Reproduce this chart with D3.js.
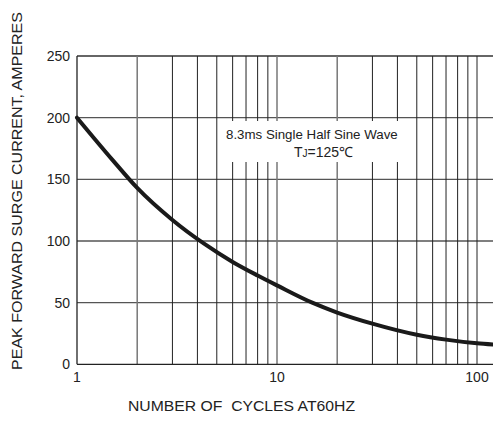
<!DOCTYPE html>
<html>
<head>
<meta charset="utf-8">
<script src="https://cdn.jsdelivr.net/npm/d3@7"></script>
<style>
  body { margin: 0; background: #fff; }
  text { font-family: "Liberation Sans", Arial, sans-serif; fill: #222; }
</style>
</head>
<body>
<div id="chart"></div>
<script>
// surge current curve
var cycles = [1, 1.5, 2, 3, 4.3, 6, 8, 10, 15, 20, 30, 50, 70, 100, 120];
var amps = [200, 166, 143, 117, 98, 83, 72, 64, 50, 42, 33, 24, 20, 17, 16];

var yTicks = [0, 50, 100, 150, 200, 250];
var xLabels = [1, 10, 100];
var xGrid = [2, 3, 4, 5, 6, 7, 8, 9, 10, 20, 30, 40, 50, 60, 70, 80, 90, 100];

var width = 493;
var height = 421;
// note: "top" is taken by window.top, so use other names
var plotLeft = 77, plotTop = 56, plotBottom = 364.3;

var svg = d3.select('#chart')
  .append('svg')
  .attr("width", width)
  .attr("height", height);

var x = d3.scaleLog()
  .domain([1, 100])
  .range([plotLeft, 477]);

var y = d3.scaleLinear()
  .domain([0, 250])
  .range([plotBottom, plotTop]);

var grid = svg.append("g");

// horizontal grid
grid.selectAll("line.h")
  .data(yTicks.filter(function(d){ return d > 0; }))
  .enter().append("line")
  .attr("x1", plotLeft).attr("x2", width)
  .attr("y1", function(d){ return y(d); })
  .attr("y2", function(d){ return y(d); })
  .attr("stroke", function(d){ return d == 250 ? "#333" : "#555"; })
  .attr("stroke-width", 1.3);

// vertical grid
grid.selectAll("line.v")
  .data(xGrid)
  .enter().append("line")
  .attr("x1", function(d){ return x(d); })
  .attr("x2", function(d){ return x(d); })
  .attr("y1", plotTop).attr("y2", plotBottom)
  .attr("stroke", function(d){ return (d == 2 || d == 10 || d == 20) ? "#777" : "#222"; })
  .attr("stroke-width", function(d){ return (d == 2 || d == 10 || d == 20) ? 1.5 : 1; });

// white patch behind the note
svg.append("rect")
  .attr("x", 222).attr("y", 121)
  .attr("width", 178).attr("height", 41)
  .attr("fill", "#fff");

// axes frame
svg.append("line")
  .attr("x1", plotLeft).attr("x2", plotLeft)
  .attr("y1", plotTop).attr("y2", plotBottom)
  .attr("stroke", "#222").attr("stroke-width", 1.3);
svg.append("line")
  .attr("x1", plotLeft).attr("x2", width)
  .attr("y1", plotBottom).attr("y2", plotBottom)
  .attr("stroke", "#222").attr("stroke-width", 1.3);

// curve
var line = d3.line()
  .x(function(d, i){ return x(cycles[i]); })
  .y(function(d){ return y(d); })
  .curve(d3.curveMonotoneX);

svg.append("path")
  .datum(amps)
  .attr("d", line)
  .attr("fill", "none")
  .attr("stroke", "#1a1a1a")
  .attr("stroke-width", 4)
  .attr("stroke-linecap", "round");

// tick labels
svg.selectAll("text.yt")
  .data(yTicks)
  .enter().append("text")
  .attr("x", 70)
  .attr("y", function(d){ return y(d) + 5; })
  .attr("text-anchor", "end")
  .attr("font-size", 14)
  .text(function(d){ return d; });

svg.selectAll("text.xt")
  .data(xLabels)
  .enter().append("text")
  .attr("x", function(d){ return x(d); })
  .attr("y", 382)
  .attr("text-anchor", "middle")
  .attr("font-size", 14)
  .text(function(d){ return d; });

// axis titles
svg.append("text")
  .attr("transform", "translate(22,191) rotate(-90)")
  .attr("text-anchor", "middle")
  .attr("font-size", 15.5)
  .attr("textLength", 358)
  .attr("lengthAdjust", "spacingAndGlyphs")
  .text("PEAK FORWARD SURGE CURRENT, AMPERES");

svg.append("text")
  .attr("x", 241.5)
  .attr("y", 411)
  .attr("text-anchor", "middle")
  .attr("font-size", 15)
  .attr("textLength", 227)
  .attr("lengthAdjust", "spacingAndGlyphs")
  .style("white-space", "pre")
  .text("NUMBER OF  CYCLES AT60HZ");

// note
svg.append("text")
  .attr("x", 226)
  .attr("y", 139)
  .attr("font-size", 13.3)
  .text("8.3ms Single Half Sine Wave");

var tj = svg.append("text")
  .attr("x", 294)
  .attr("y", 157)
  .attr("font-size", 14);
tj.append("tspan").text("T");
tj.append("tspan").attr("font-size", 10).text("J");
tj.append("tspan").text("=125℃");
</script>
</body>
</html>
